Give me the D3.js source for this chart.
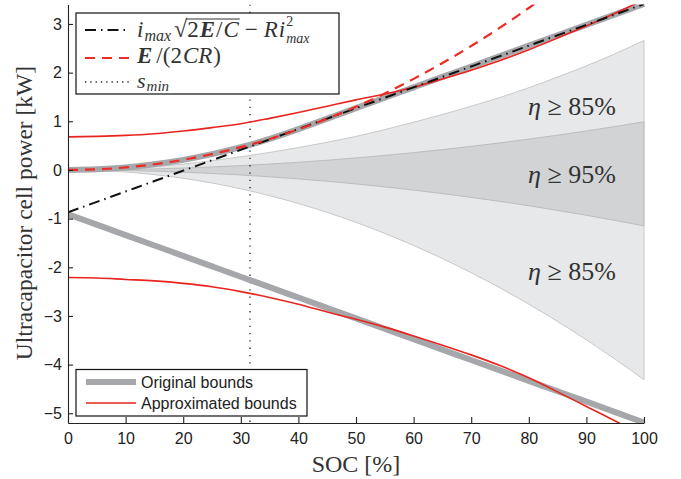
<!DOCTYPE html>
<html>
<head>
<meta charset="utf-8">
<script src="https://cdn.jsdelivr.net/npm/d3@7"></script>
<style>
  html, body { margin: 0; padding: 0; background: #fff; }
  svg { display: block; }
</style>
</head>
<body>
<svg id="chart" width="681" height="479"></svg>
<script>
// ---------------- data ----------------
const soc = [0, 5, 10, 15, 20, 25, 30, 35, 40, 45, 50, 55, 60, 65, 70, 75, 80, 85, 90, 95, 100];

const upperOriginal = [0, 0.013, 0.052, 0.117, 0.208, 0.325, 0.468, 0.637, 0.84, 1.056, 1.27, 1.484, 1.698, 1.912, 2.126, 2.34, 2.554, 2.768, 2.982, 3.196, 3.41];
const lowerOriginal = [-0.91, -1.124, -1.338, -1.552, -1.766, -1.98, -2.194, -2.408, -2.622, -2.836, -3.05, -3.264, -3.478, -3.692, -3.906, -4.12, -4.334, -4.548, -4.762, -4.976, -5.19];

const upperApprox = [0.68, 0.69, 0.71, 0.745, 0.80, 0.87, 0.95, 1.06, 1.18, 1.31, 1.44, 1.56, 1.70, 1.87, 2.05, 2.25, 2.47, 2.71, 2.96, 3.22, 3.50];
const lowerApprox = [-2.21, -2.22, -2.25, -2.28, -2.33, -2.40, -2.50, -2.62, -2.76, -2.92, -3.07, -3.23, -3.41, -3.60, -3.80, -4.02, -4.27, -4.56, -4.86, -5.16, -5.48];

const imaxBound = [-0.87, -0.656, -0.442, -0.228, -0.014, 0.20, 0.414, 0.628, 0.842, 1.056, 1.27, 1.484, 1.698, 1.912, 2.126, 2.34, 2.554, 2.768, 2.982, 3.196, 3.41];
const energyBound = [0, 0.013, 0.052, 0.117, 0.208, 0.325, 0.468, 0.637, 0.832, 1.053, 1.30, 1.573, 1.872, 2.197, 2.548, 2.925, 3.328, 3.757, null, null, null];

const eta85Upper = [0, 0.01, 0.03, 0.07, 0.12, 0.19, 0.27, 0.36, 0.46, 0.57, 0.69, 0.83, 0.98, 1.14, 1.31, 1.49, 1.69, 1.91, 2.14, 2.39, 2.66];
const eta85Lower = [0, -0.011, -0.043, -0.097, -0.172, -0.269, -0.388, -0.528, -0.69, -0.873, -1.078, -1.304, -1.552, -1.821, -2.112, -2.424, -2.758, -3.114, -3.491, -3.89, -4.31];
const eta95Upper = [0, 0.002, 0.01, 0.022, 0.04, 0.062, 0.089, 0.121, 0.158, 0.2, 0.248, 0.299, 0.356, 0.418, 0.485, 0.557, 0.634, 0.715, 0.802, 0.893, 0.99];
const eta95Lower = [0, -0.003, -0.012, -0.026, -0.046, -0.072, -0.104, -0.141, -0.184, -0.233, -0.288, -0.348, -0.414, -0.486, -0.564, -0.647, -0.736, -0.831, -0.932, -1.038, -1.15];

const sMin = 31.6;

const xTicks = [0, 10, 20, 30, 40, 50, 60, 70, 80, 90, 100];
const yTicks = [3, 2, 1, 0, -1, -2, -3, -4, -5];
const yTickLabels = ["3", "2", "1", "0", "-1", "-2", "\u22123", "\u22124", "\u22125"];

const bandLabels = [
  { text: "85%", v: 1.13 },
  { text: "95%", v: -0.27 },
  { text: "85%", v: -2.26 }
];

// ---------------- layout ----------------
const svg = d3.select("#chart");
const X0 = 68, X1 = 644, YT = 4.5, YB = 423;
const x = d3.scaleLinear().domain([0, 100]).range([X0, X1]);
const y = d3.scaleLinear().domain([-5.2, 3.4]).range([YB, YT]);

const SERIF = "'Liberation Serif', 'DejaVu Serif', serif";
const SANS = "'Liberation Sans', Arial, sans-serif";

svg.append("defs").append("clipPath").attr("id", "plotclip")
  .append("rect").attr("x", X0).attr("y", YT).attr("width", X1 - X0 + 3).attr("height", YB - YT);

const plot = svg.append("g").attr("clip-path", "url(#plotclip)");

const rows = soc.map((s, i) => ({ s, i }));

// efficiency bands
const bandArea = (up, lo) => d3.area()
  .x(d => x(d.s)).y0(d => y(lo[d.i])).y1(d => y(up[d.i]))
  .curve(d3.curveMonotoneX);

plot.append("path").attr("d", bandArea(eta85Upper, eta85Lower)(rows))
  .attr("fill", "#e7e8e9").attr("stroke", "#bcbcbc").attr("stroke-width", 0.8);
plot.append("path").attr("d", bandArea(eta95Upper, eta95Lower)(rows))
  .attr("fill", "#d2d3d5").attr("stroke", "#b4b4b4").attr("stroke-width", 0.8);

// s_min dotted line
plot.append("line")
  .attr("x1", x(sMin)).attr("x2", x(sMin)).attr("y1", YT).attr("y2", YB)
  .attr("stroke", "#222").attr("stroke-width", 1.3).attr("stroke-dasharray", "1.3,6");

const lineOf = arr => d3.line()
  .defined(d => arr[d.i] !== null)
  .x(d => x(d.s)).y(d => y(arr[d.i]))
  .curve(d3.curveMonotoneX)(rows);

// original bounds (thick gray)
[upperOriginal, lowerOriginal].forEach(arr => {
  plot.append("path").attr("d", lineOf(arr)).attr("fill", "none")
    .attr("stroke", "#a6a7aa").attr("stroke-width", 6);
});

// approximated bounds (red)
[upperApprox, lowerApprox].forEach(arr => {
  plot.append("path").attr("d", lineOf(arr)).attr("fill", "none")
    .attr("stroke", "#e8241f").attr("stroke-width", 1.6);
});

// i_max bound (black dash-dot)
plot.append("path").attr("d", lineOf(imaxBound)).attr("fill", "none")
  .attr("stroke", "#111").attr("stroke-width", 2)
  .attr("stroke-dasharray", "11,5,1.5,5");

// E/(2CR) (red dashed)
plot.append("path").attr("d", lineOf(energyBound)).attr("fill", "none")
  .attr("stroke", "#ee2b24").attr("stroke-width", 2.2)
  .attr("stroke-dasharray", "10,7");

// band labels
bandLabels.forEach(b => {
  const t = svg.append("text").attr("x", 528).attr("y", y(b.v))
    .attr("font-family", SERIF).attr("font-size", 26).attr("fill", "#333");
  t.append("tspan").attr("font-style", "italic").text("\u03b7");
  t.append("tspan").text(" \u2265 " + b.text);
});

// ---------------- axes ----------------
const xAxis = d3.axisBottom(x).tickValues(xTicks).tickSizeInner(-6).tickSizeOuter(0).tickPadding(10);
const gx = svg.append("g").attr("transform", `translate(0,${YB})`).call(xAxis);
const yAxis = d3.axisLeft(y).tickValues(yTicks).tickSizeInner(-5).tickSizeOuter(0).tickPadding(6)
  .tickFormat((d, i) => yTickLabels[i]);
const gy = svg.append("g").attr("transform", `translate(${X0},0)`).call(yAxis);

[gx, gy].forEach(g => {
  g.selectAll("path.domain").attr("stroke", "#222").attr("stroke-width", 1.1);
  g.selectAll(".tick line").attr("stroke", "#222").attr("stroke-width", 1.1);
  g.selectAll(".tick text").attr("font-family", SANS).attr("font-size", 16).attr("fill", "#222");
});

// axis titles
svg.append("text").attr("x", 356).attr("y", 472).attr("text-anchor", "middle")
  .attr("font-family", SERIF).attr("font-size", 24).attr("fill", "#333").text("SOC [%]");
svg.append("text").attr("transform", "translate(32,213) rotate(-90)").attr("text-anchor", "middle")
  .attr("font-family", SERIF).attr("font-size", 23.5).attr("fill", "#333")
  .text("Ultracapacitor cell power [kW]");

// ---------------- legend 1 (math) ----------------
const leg1 = svg.append("g");
leg1.append("rect").attr("x", 76).attr("y", 13).attr("width", 263).attr("height", 81)
  .attr("fill", "#fff").attr("stroke", "#111").attr("stroke-width", 1.2);

leg1.append("line").attr("x1", 85).attr("x2", 130).attr("y1", 30).attr("y2", 30)
  .attr("stroke", "#111").attr("stroke-width", 2).attr("stroke-dasharray", "11,5,1.5,5");
leg1.append("line").attr("x1", 85).attr("x2", 134).attr("y1", 58).attr("y2", 58)
  .attr("stroke", "#ee2b24").attr("stroke-width", 2.2).attr("stroke-dasharray", "10,7");
leg1.append("line").attr("x1", 85).attr("x2", 132).attr("y1", 82).attr("y2", 82)
  .attr("stroke", "#222").attr("stroke-width", 1.3).attr("stroke-dasharray", "1.3,4");

// a single <text> built from tspans: [content, italic, bold, size, dx, dy]
function mathText(g, x0, baseline, baseSize, parts) {
  const t = g.append("text").attr("x", x0).attr("y", baseline)
    .attr("font-family", SERIF).attr("font-size", baseSize).attr("fill", "#333");
  parts.forEach(([s, it, bd, sz, dx, dy]) => {
    const ts = t.append("tspan").text(s)
      .attr("font-style", it ? "italic" : "normal")
      .attr("font-weight", bd ? "bold" : "normal");
    if (sz) ts.attr("font-size", sz);
    if (dx) ts.attr("dx", dx);
    if (dy) ts.attr("dy", dy);
  });
  return t;
}

// entry 1: i_max sqrt(2E/C) - R i^2_max
const row1 = mathText(leg1, 137, 37, 23, [
  ["i", true, false, 0, 0, 0],
  ["max", true, false, 16, 1, 4],
  ["\u221a", false, false, 24, 3, -4],
  ["2", false, false, 0, 0, 0],
  ["E", true, true, 0, 1, 0],
  ["/", false, false, 0, 1, 0],
  ["C", true, false, 0, 1, 0],
  ["\u2212", false, false, 0, 6, 0],
  ["R", true, false, 0, 6, 0],
  ["i", true, false, 0, 1, 0],
  ["2", false, false, 14, 1, -11],
  ["max", true, false, 14, -7, 17]
]);
// overline of the radical, from the "2" (char 5) to the end of "C" (char 8)
{
  const n = row1.node();
  const a = n.getExtentOfChar(5);
  const c = n.getExtentOfChar(8);
  leg1.append("line").attr("x1", a.x - 1).attr("x2", c.x + c.width + 1)
    .attr("y1", 19).attr("y2", 19).attr("stroke", "#333").attr("stroke-width", 1.1);
}

// entry 2: E/(2CR)
mathText(leg1, 137, 63, 23, [
  ["E", true, true, 0, 0, 0],
  ["/(2", false, false, 0, 4, 0],
  ["CR", true, false, 0, 1, 0],
  [")", false, false, 0, 1, 0]
]);

// entry 3: s_min
mathText(leg1, 137, 88, 22, [
  ["s", true, false, 0, 0, 0],
  ["min", true, false, 15, 1, 3]
]);

// ---------------- legend 2 ----------------
const leg2 = svg.append("g");
leg2.append("rect").attr("x", 76).attr("y", 369.5).attr("width", 231).attr("height", 46.5)
  .attr("fill", "#fff").attr("stroke", "#111").attr("stroke-width", 1.2);
leg2.append("line").attr("x1", 86).attr("x2", 136).attr("y1", 382).attr("y2", 382)
  .attr("stroke", "#a6a7aa").attr("stroke-width", 6);
leg2.append("line").attr("x1", 86).attr("x2", 136).attr("y1", 403).attr("y2", 403)
  .attr("stroke", "#e8241f").attr("stroke-width", 1.6);
leg2.append("text").attr("x", 141).attr("y", 388).attr("font-family", SANS).attr("font-size", 16)
  .attr("fill", "#222").text("Original bounds");
leg2.append("text").attr("x", 141).attr("y", 409).attr("font-family", SANS).attr("font-size", 16)
  .attr("fill", "#222").text("Approximated bounds");
</script>
</body>
</html>
